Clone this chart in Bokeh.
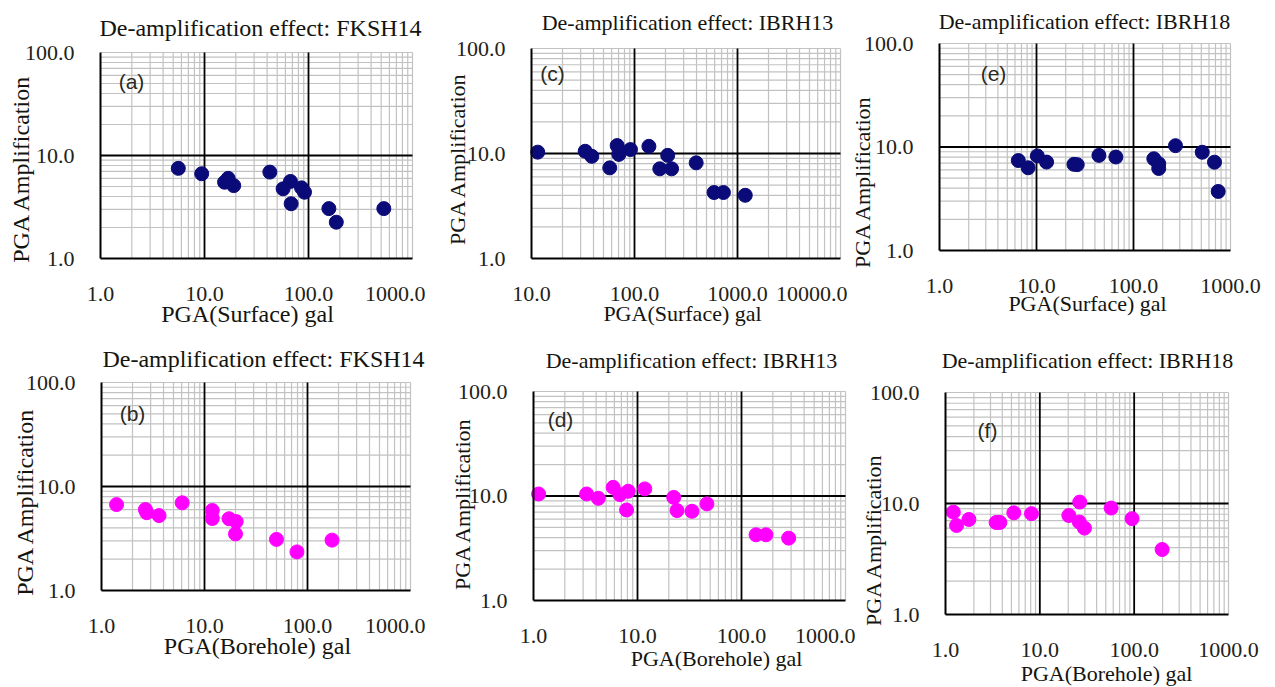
import math
from bokeh.plotting import figure
from bokeh.layouts import column, row
from bokeh.models import FixedTicker, Label, Range1d, CustomJSTickFormatter
from bokeh.embed import file_html
from bokeh.resources import INLINE

# ---------------- data ----------------
a_x = [5.6, 9.4, 15.6, 16.9, 19.1, 42.5, 57.0, 67.1, 68.1, 85.7, 91.5, 157, 185, 530]
a_y = [7.5, 6.65, 5.5, 6.0, 5.1, 6.9, 4.75, 5.6, 3.4, 4.85, 4.4, 3.05, 2.25, 3.05]

c_x = [11.5, 33.2, 38.5, 57.5, 67.9, 70.5, 91.4, 138, 176, 210, 229, 397, 592, 730, 1189]
c_y = [10.3, 10.5, 9.4, 7.3, 11.9, 9.8, 10.9, 11.7, 7.15, 9.6, 7.15, 8.15, 4.25, 4.25, 4.0]

e_x = [6.5, 8.2, 10.2, 12.7, 24.3, 26.3, 44.0, 65.8, 162, 182, 182, 271, 511, 684, 747]
e_y = [7.4, 6.3, 8.2, 7.15, 6.8, 6.75, 8.3, 8.0, 7.7, 6.9, 6.2, 10.3, 8.9, 7.13, 3.72]

b_x = [1.4, 2.67, 2.75, 3.62, 6.07, 11.9, 11.9, 17.3, 20.3, 20.0, 50, 79, 173]
b_y = [6.7, 6.0, 5.6, 5.25, 6.97, 5.88, 4.92, 4.9, 4.6, 3.5, 3.1, 2.35, 3.05]

d_x = [1.12, 3.24, 4.2, 5.84, 6.77, 8.14, 7.85, 11.75, 22.3, 24.0, 33.4, 46.5, 138, 172, 284]
d_y = [10.45, 10.45, 9.5, 12.1, 10.3, 11.1, 7.35, 11.7, 9.7, 7.25, 7.15, 8.4, 4.25, 4.25, 3.95]

f_x = [1.21, 1.31, 1.77, 3.44, 3.77, 5.3, 8.16, 20.3, 26.5, 26.2, 29.7, 57, 95, 198]
f_y = [8.36, 6.34, 7.18, 6.75, 6.75, 8.24, 8.1, 7.8, 10.3, 6.8, 6.0, 9.1, 7.3, 3.85]

titles = ["De-amplification effect: FKSH14", "De-amplification effect: IBRH13",
          "De-amplification effect: IBRH18", "De-amplification effect: FKSH14",
          "De-amplification effect: IBRH13", "De-amplification effect: IBRH18"]
x_titles = ["PGA(Surface) gal"] * 3 + ["PGA(Borehole) gal"] * 3
y_title = "PGA Amplification"
panel_tags = ["(a)", "(c)", "(e)", "(b)", "(d)", "(f)"]
y_ticks = [1, 10, 100]

NAVY = "#0a0a78"
MAGENTA = "#ff00ff"
TXT = "#222218"
SERIF = "Liberation Serif"
MINOR = "#c2c2c2"


def decade_minors(lo, hi):
    out = []
    d = lo
    while d < hi:
        out += [d * k for k in range(2, 10)]
        d *= 10
    return out


def panel(xs, ys, color, title, xtitle, tag, xlo, xhi, geo, txt_pos, fs):
    # geo: page origin of the figure, figure size, plot box (left, top, width, height) inside it
    x0, y0, figW, figH, L, T, W, H = geo
    lx0 = math.log10(xlo)
    ndec = math.log10(xhi) - lx0
    xr = Range1d(10 ** (lx0 - L / W * ndec), 10 ** (lx0 + (figW - L) / W * ndec))
    yr = Range1d(10 ** (-(figH - T - H) / H * 2), 10 ** (2 + T / H * 2))
    p = figure(width=figW, height=figH, x_axis_type="log", y_axis_type="log",
               x_range=xr, y_range=yr, output_backend="svg", toolbar_location=None,
               min_border=0, title=None)
    p.background_fill_color = "white"
    p.border_fill_color = "white"
    p.outline_line_color = None
    p.xgrid.visible = False
    p.ygrid.visible = False

    xmaj = []
    v = xlo
    while v <= xhi * 1.0001:
        xmaj.append(v)
        v *= 10

    # grid lines of the plot box
    vminor = decade_minors(xlo, xhi) + [xhi]
    hminor = decade_minors(1, 100) + [100]
    p.segment(x0=vminor, y0=[1] * len(vminor), x1=vminor, y1=[100] * len(vminor),
              line_color=MINOR, line_width=1.2)
    p.segment(x0=[xlo] * len(hminor), y0=hminor, x1=[xhi] * len(hminor), y1=hminor,
              line_color=MINOR, line_width=1.2)
    vmaj = xmaj[1:-1]
    p.segment(x0=vmaj, y0=[1] * len(vmaj), x1=vmaj, y1=[100] * len(vmaj),
              line_color="black", line_width=1.8)
    p.segment(x0=[xlo], y0=[10], x1=[xhi], y1=[10], line_color="black", line_width=1.8)

    # axes floating on the plot box
    fmt = CustomJSTickFormatter(code="return tick.toFixed(1);")
    xa = p.xaxis[0]
    ya = p.yaxis[0]
    xa.ticker = FixedTicker(ticks=xmaj, minor_ticks=[])
    ya.ticker = FixedTicker(ticks=y_ticks, minor_ticks=[])
    xa.fixed_location = 1
    ya.fixed_location = xlo
    xa.bounds = (xlo, xhi)
    ya.bounds = (1, 100)
    for ax in (xa, ya):
        ax.formatter = fmt
        ax.major_tick_line_color = None
        ax.minor_tick_line_color = None
        ax.major_tick_out = 0
        ax.major_tick_in = 0
        ax.axis_line_color = "black"
        ax.axis_line_width = 2
        ax.major_label_text_font = SERIF
        ax.major_label_text_font_size = "22px"
        ax.major_label_text_color = TXT
    xa.major_label_standoff = 28
    ya.major_label_standoff = 26

    p.scatter(xs, ys, size=14, color=color, marker="circle")

    def to_data(px, py):
        fx = px - x0 - L
        fy = py - y0 - T
        return 10 ** (lx0 + fx / W * ndec), 10 ** (2 - 2 * fy / H)

    (tx, ty), (xtx, xty), (ytx, yty), (gx, gy) = txt_pos
    for (px, py), text, size, ang, font, col in [
        ((tx, ty), title, fs, 0, SERIF, "#141410"),
        ((xtx, xty), xtitle, fs, 0, SERIF, "#141410"),
        ((ytx, yty), y_title, fs, math.pi / 2, SERIF, "#141410"),
        ((gx, gy), tag, "21px", 0, "Liberation Sans", "#2a2a22"),
    ]:
        dx, dy = to_data(px, py)
        p.add_layout(Label(x=dx, y=dy, text=text, text_font=font, text_font_size=size,
                           text_color=col, angle=ang, text_align="center",
                           text_baseline="middle"))
    return p


# geometry: (page x0, page y0, fig width, fig height, box left, box top, box width, box height)
pa = panel(a_x, a_y, NAVY, titles[0], x_titles[0], panel_tags[0], 1, 1000,
           (0, 0, 425, 340, 100, 52, 312, 206),
           ((260, 27), (247, 313), (20, 168), (131, 81)), "24px")
pc = panel(c_x, c_y, NAVY, titles[1], x_titles[1], panel_tags[1], 10, 10000,
           (425, 0, 422, 340, 106, 48, 309, 210),
           ((687, 22), (682, 313), (457, 158), (552, 73)), "22px")
pe = panel(e_x, e_y, NAVY, titles[2], x_titles[2], panel_tags[2], 1, 1000,
           (847, 0, 428, 340, 92, 43, 291, 207),
           ((1084, 21), (1087, 303), (862, 181), (993, 73)), "22px")
pb = panel(b_x, b_y, MAGENTA, titles[3], x_titles[3], panel_tags[3], 1, 1000,
           (0, 340, 425, 347, 101, 42, 309, 208),
           ((263, 358), (257, 645), (24, 501), (132, 413)), "24px")
pd = panel(d_x, d_y, MAGENTA, titles[4], x_titles[4], panel_tags[4], 1, 1000,
           (425, 340, 430, 347, 108, 51, 312, 209),
           ((691, 360), (716, 658), (462, 503), (560, 419)), "22px")
pf = panel(f_x, f_y, MAGENTA, titles[5], x_titles[5], panel_tags[5], 1, 1000,
           (855, 340, 420, 347, 90, 52, 283, 222),
           ((1087, 360), (1106, 673), (873, 539), (987, 430)), "22px")

layout = column(row(pa, pc, pe, spacing=0), row(pb, pd, pf, spacing=0), spacing=0)
open("out.html", "w").write(file_html(layout, INLINE))
